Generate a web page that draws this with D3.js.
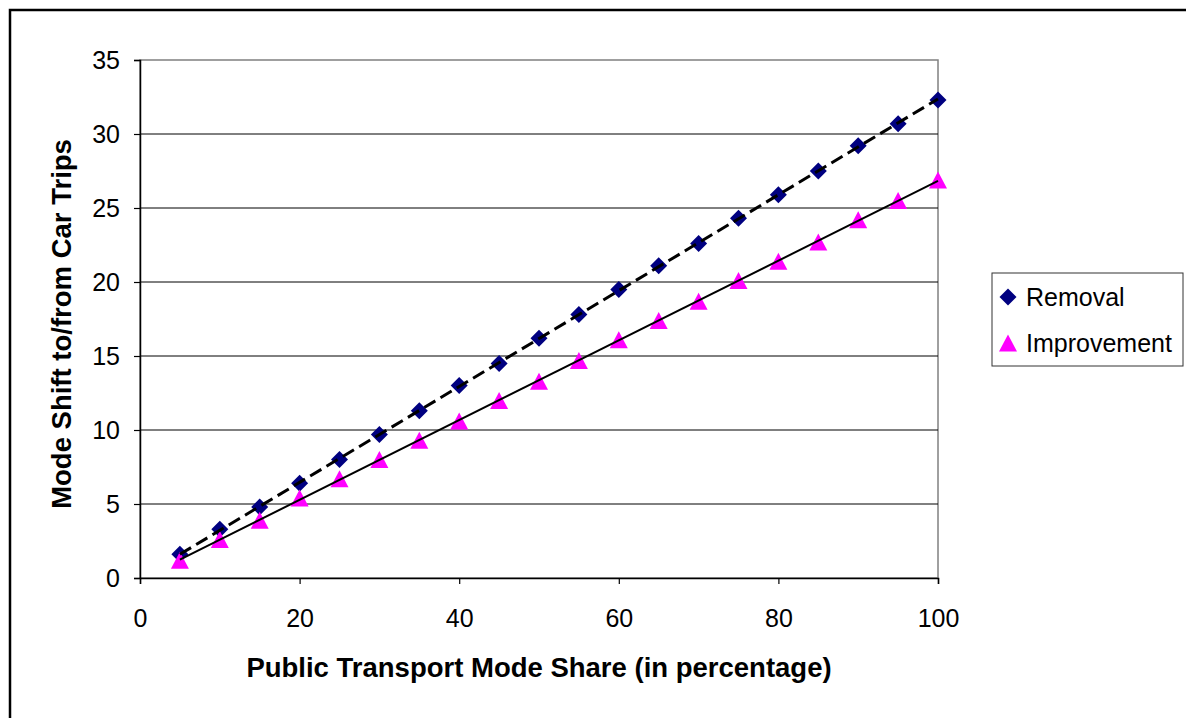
<!DOCTYPE html>
<html>
<head>
<meta charset="utf-8">
<script src="https://cdn.jsdelivr.net/npm/d3@7"></script>
<style>
  body { margin: 0; background: #fff; }
  svg { display: block; font-family: "Liberation Sans", Arial, sans-serif; }
</style>
</head>
<body>
<svg id="chart" width="1186" height="718"></svg>
<script>
/* DATA */
const shares = [5, 10, 15, 20, 25, 30, 35, 40, 45, 50, 55, 60, 65, 70, 75, 80, 85, 90, 95, 100];
const removal = [1.6, 3.3, 4.8, 6.4, 8.0, 9.7, 11.3, 13.0, 14.5, 16.2, 17.8, 19.5, 21.1, 22.6, 24.3, 25.9, 27.5, 29.2, 30.7, 32.3];
const improvement = [1.2, 2.6, 3.9, 5.4, 6.7, 8.0, 9.3, 10.6, 12.0, 13.3, 14.7, 16.1, 17.4, 18.7, 20.1, 21.4, 22.7, 24.2, 25.5, 26.9];
const xTicks = [0, 20, 40, 60, 80, 100];
const yTicks = [0, 5, 10, 15, 20, 25, 30, 35];
const seriesNames = ["Removal", "Improvement"];

/* CONSTANTS */
const margin = { top: 60, left: 140, right: 248, bottom: 140 };
const width = 1186, height = 718;
const FONT = 25;

const svg = d3.select("#chart");

// outer chart border
svg.append("rect")
  .attr("x", 10).attr("y", 10)
  .attr("width", 1200).attr("height", 760)
  .attr("fill", "none").attr("stroke", "#000").attr("stroke-width", 2.5);

const x = d3.scaleLinear().domain([0, 100]).range([margin.left, width - margin.right]);
const y = d3.scaleLinear().domain([0, 35]).range([height - margin.bottom, margin.top]);

// plot area frame (top/right gray)
svg.append("rect")
  .attr("x", x(0)).attr("y", y(35))
  .attr("width", x(100) - x(0)).attr("height", y(0) - y(35))
  .attr("fill", "none").attr("stroke", "#808080").attr("stroke-width", 1.5);

// gridlines
svg.append("g").selectAll("line")
  .data(yTicks.filter(d => d > 0 && d < 35))
  .join("line")
  .attr("x1", x(0)).attr("x2", x(100))
  .attr("y1", d => y(d)).attr("y2", d => y(d))
  .attr("stroke", "#000").attr("stroke-width", 1);

// axes
const yAxis = svg.append("g")
  .attr("transform", `translate(${x(0)},0)`)
  .call(d3.axisLeft(y).tickValues(yTicks).tickSize(6).tickPadding(14));
const xAxis = svg.append("g")
  .attr("transform", `translate(0,${y(0)})`)
  .call(d3.axisBottom(x).tickValues(xTicks).tickSize(6).tickPadding(25));
[yAxis, xAxis].forEach(a => {
  a.attr("font-size", FONT).attr("font-family", "Liberation Sans, Arial, sans-serif");
  a.select(".domain").attr("stroke", "#000").attr("stroke-width", 1.5);
  a.selectAll(".tick line").attr("stroke", "#000").attr("stroke-width", 1.2);
  a.selectAll(".tick text").attr("fill", "#000");
});

// axis titles
svg.append("text")
  .attr("x", (x(0) + x(100)) / 2).attr("y", 677)
  .attr("text-anchor", "middle").attr("font-size", 27.5).attr("font-weight", "bold")
  .text("Public Transport Mode Share (in percentage)");
svg.append("text")
  .attr("transform", "translate(71,324) rotate(-90)")
  .attr("text-anchor", "middle").attr("font-size", 27.5).attr("font-weight", "bold")
  .text("Mode Shift to/from Car Trips");

// linear trendline helper
function fit(xs, ys) {
  const mx = d3.mean(xs), my = d3.mean(ys);
  const b = d3.sum(xs, (v, i) => (v - mx) * (ys[i] - my)) / d3.sum(xs, v => (v - mx) ** 2);
  return [xs[0], xs[xs.length - 1]].map(v => [v, my + b * (v - mx)]);
}

// marker shapes (bbox centred on the point)
const diamond = "M0,-8.5L8.5,0L0,8.5L-8.5,0Z";
const triangle = "M0,-8.5L9,8.5L-9,8.5Z";

// markers
svg.append("g").selectAll("path")
  .data(shares.map((s, i) => [s, removal[i]]))
  .join("path")
  .attr("transform", d => `translate(${x(d[0])},${y(d[1])})`)
  .attr("d", diamond).attr("fill", "#000080");

svg.append("g").selectAll("path")
  .data(shares.map((s, i) => [s, improvement[i]]))
  .join("path")
  .attr("transform", d => `translate(${x(d[0])},${y(d[1])})`)
  .attr("d", triangle).attr("fill", "#ff00ff");

// trendlines
const line = d3.line().x(d => x(d[0])).y(d => y(d[1]));
svg.append("path")
  .attr("d", line(fit(shares, removal)))
  .attr("fill", "none").attr("stroke", "#000").attr("stroke-width", 3)
  .attr("stroke-dasharray", "13,6");
svg.append("path")
  .attr("d", line(fit(shares, improvement)))
  .attr("fill", "none").attr("stroke", "#000").attr("stroke-width", 2);

// legend
const legend = svg.append("g").attr("transform", "translate(992,273)");
legend.append("rect")
  .attr("width", 191).attr("height", 93)
  .attr("fill", "#fff").attr("stroke", "#333").attr("stroke-width", 1);
legend.selectAll("path")
  .data(seriesNames)
  .join("path")
  .attr("transform", (d, i) => `translate(16,${24 + i * 46})`)
  .attr("d", (d, i) => i === 0 ? diamond : triangle)
  .attr("fill", (d, i) => i === 0 ? "#000080" : "#ff00ff");
legend.selectAll("text")
  .data(seriesNames)
  .join("text")
  .attr("x", 34).attr("y", (d, i) => 33 + i * 46)
  .attr("font-size", FONT).attr("fill", "#000")
  .text(d => d);
</script>
</body>
</html>
